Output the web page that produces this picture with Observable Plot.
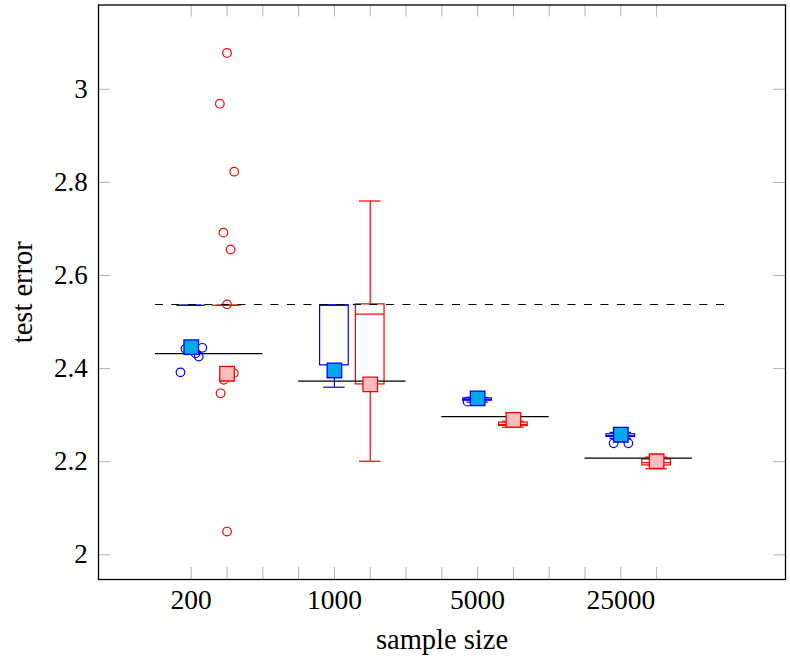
<!DOCTYPE html>
<html>
<head>
<meta charset="utf-8">
<script src="https://cdn.jsdelivr.net/npm/d3@7"></script>
<script src="https://cdn.jsdelivr.net/npm/@observablehq/plot@0.6"></script>
<style>
  html, body { margin: 0; padding: 0; background: white; }
</style>
</head>
<body>
<div id="chart"></div>
<script>
// ---- data ----
const sampleSizes = ["200", "1000", "5000", "25000"];
const bluePos = [1, 5, 9, 13];      // slot of first method in each group
const redPos  = [2, 6, 10, 14];     // slot of second method in each group
const slotTicks = [1,2,3,4,5,6,7,8,9,10,11,12,13,14];
const yTicks = [2, 2.2, 2.4, 2.6, 2.8, 3];
const yTickLabels = ["2", "2.2", "2.4", "2.6", "2.8", "3"];

const blueLow  = [2.536, 2.360, 2.328, 2.250];
const blueQ1   = [2.536, 2.407, 2.331, 2.253];
const blueMed  = [2.536, 2.536, 2.334, 2.256];
const blueQ3   = [2.536, 2.536, 2.336, 2.259];
const blueHigh = [2.536, 2.536, 2.338, 2.263];
const blueMean = [2.446, 2.396, 2.336, 2.258];

const redLow  = [2.536, 2.201, 2.274, 2.185];
const redQ1   = [2.536, 2.366, 2.277, 2.192];
const redMed  = [2.536, 2.517, 2.280, 2.198];
const redQ3   = [2.536, 2.538, 2.284, 2.205];
const redHigh = [2.536, 2.760, 2.287, 2.210];
const redMean = [2.389, 2.366, 2.290, 2.201];

const groupMedian = [2.432, 2.373, 2.297, 2.2075];
const referenceError = 2.5377;

// outliers: group index, value, horizontal jitter (in slot units) as seen
const blueOutGroup  = [0, 0, 0, 0, 0, 2, 3, 3];
const blueOutValue  = [2.4425, 2.4447, 2.4331, 2.426, 2.392, 2.329, 2.2397, 2.2397];
const blueOutJitter = [-0.16, 0.31, 0.12, 0.21, -0.30, -0.28, -0.20, 0.21];

const redOutGroup  = [0, 0, 0, 0, 0, 0, 0, 0, 0, 0];
const redOutValue  = [3.078, 2.969, 2.823, 2.692, 2.656, 2.538, 2.390, 2.376, 2.347, 2.050];
const redOutJitter = [0, -0.2, 0.2, -0.1, 0.1, 0, 0.19, -0.09, -0.18, 0];

// ---- build tables ----
function boxTable(pos, lo, q1, med, q3, hi, mean) {
  return pos.map((p, i) => ({pos: p, lo: lo[i], q1: q1[i], med: med[i], q3: q3[i], hi: hi[i], mean: mean[i]}));
}
const blueBoxes = boxTable(bluePos, blueLow, blueQ1, blueMed, blueQ3, blueHigh, blueMean);
const redBoxes  = boxTable(redPos, redLow, redQ1, redMed, redQ3, redHigh, redMean);
const blueOut = blueOutValue.map((v, i) => ({x: bluePos[blueOutGroup[i]] + blueOutJitter[i], v}));
const redOut  = redOutValue.map((v, i) => ({x: redPos[redOutGroup[i]] + redOutJitter[i], v}));
const groups = bluePos.map((p, i) => ({pos: p, m: groupMedian[i]}));

const BLUE = "#0000ff", RED = "#ff0000";
const BLUE_FILL = "#00a9ec", RED_FILL = "#ffbcbc";
const HB = 0.4, HC = 0.3;
const FONT = "Liberation Serif, Times New Roman, serif";
const TICK = "#b4b4b4";

function boxMarks(data, color) {
  return [
    Plot.ruleX(data, {x: "pos", y1: "q3", y2: "hi", stroke: color, strokeWidth: 1.2}),
    Plot.ruleX(data, {x: "pos", y1: "lo", y2: "q1", stroke: color, strokeWidth: 1.2}),
    Plot.ruleY(data, {y: "hi", x1: d => d.pos - HC, x2: d => d.pos + HC, stroke: color, strokeWidth: 1.2}),
    Plot.ruleY(data, {y: "lo", x1: d => d.pos - HC, x2: d => d.pos + HC, stroke: color, strokeWidth: 1.2}),
    Plot.rect(data, {x1: d => d.pos - HB, x2: d => d.pos + HB, y1: "q1", y2: "q3", fill: "white", stroke: color, strokeWidth: 1.2}),
    Plot.ruleY(data, {y: "med", x1: d => d.pos - HB, x2: d => d.pos + HB, stroke: color, strokeWidth: 1.2})
  ];
}

const W = 790, H = 667;
const mL = 98, mR = 5, mT = 4.5, mB = 88;
const innerH = H - mT - mB, innerW = W - mL - mR;
const TL = 12;

const chart = Plot.plot({
  width: W,
  height: H,
  marginLeft: mL,
  marginRight: mR,
  marginTop: mT,
  marginBottom: mB,
  style: {fontFamily: FONT, background: "white", color: "black"},
  x: {type: "linear", domain: [-1.59, 17.6]},
  y: {type: "linear", domain: [1.947, 3.181]},
  marks: [
    // inward ticks
    Plot.ruleX(slotTicks, {x: d => d, insetTop: innerH - TL, stroke: TICK, strokeWidth: 1}),
    Plot.ruleX(slotTicks, {x: d => d, insetBottom: innerH - TL, stroke: TICK, strokeWidth: 1}),
    Plot.ruleY(yTicks, {y: d => d, insetRight: innerW - TL, stroke: TICK, strokeWidth: 1}),
    Plot.ruleY(yTicks, {y: d => d, insetLeft: innerW - TL, stroke: TICK, strokeWidth: 1}),
    // tick labels
    Plot.axisY({ticks: yTicks, tickFormat: d => yTickLabels[yTicks.indexOf(d)], tickSize: 0, tickPadding: 10.7, fontSize: 27, fontFamily: FONT, label: null}),
    Plot.axisX({ticks: bluePos, tickFormat: d => sampleSizes[bluePos.indexOf(d)], tickSize: 0, tickPadding: 10, fontSize: 27.5, fontFamily: FONT, label: null}),
    // axis titles
    Plot.text(["sample size"], {frameAnchor: "bottom", textAnchor: "middle", lineAnchor: "bottom", dy: 69, fontSize: 28.5, fontFamily: FONT, fill: "black"}),
    Plot.text(["test error"], {frameAnchor: "left", textAnchor: "middle", lineAnchor: "bottom", rotate: -90, dx: -67, fontSize: 28.5, fontFamily: FONT, fill: "black"}),
    // boxes
    ...boxMarks(blueBoxes, BLUE),
    ...boxMarks(redBoxes, RED),
    // outliers
    Plot.dot(blueOut, {x: "x", y: "v", r: 4.3, stroke: BLUE, strokeWidth: 1.2, fill: "none"}),
    Plot.dot(redOut, {x: "x", y: "v", r: 4.3, stroke: RED, strokeWidth: 1.2, fill: "none"}),
    // group medians and reference
    Plot.ruleY(groups, {y: "m", x1: d => d.pos - 1, x2: d => d.pos + 2, stroke: "black", strokeWidth: 1.2}),
    Plot.ruleY([referenceError], {y: d => d, x1: bluePos[0] - 1, x2: redPos[3] + 2, stroke: "black", strokeWidth: 1.2, strokeDasharray: "8,8.5"}),
    // means
    Plot.dot(blueBoxes, {x: "pos", y: "mean", symbol: "square", r: 8.2, fill: BLUE_FILL, stroke: BLUE, strokeWidth: 1.3}),
    Plot.dot(redBoxes, {x: "pos", y: "mean", symbol: "square", r: 8.2, fill: RED_FILL, stroke: RED, strokeWidth: 1.3}),
    Plot.frame({stroke: "black", strokeWidth: 1.3})
  ]
});
document.getElementById("chart").appendChild(chart);
</script>
</body>
</html>
